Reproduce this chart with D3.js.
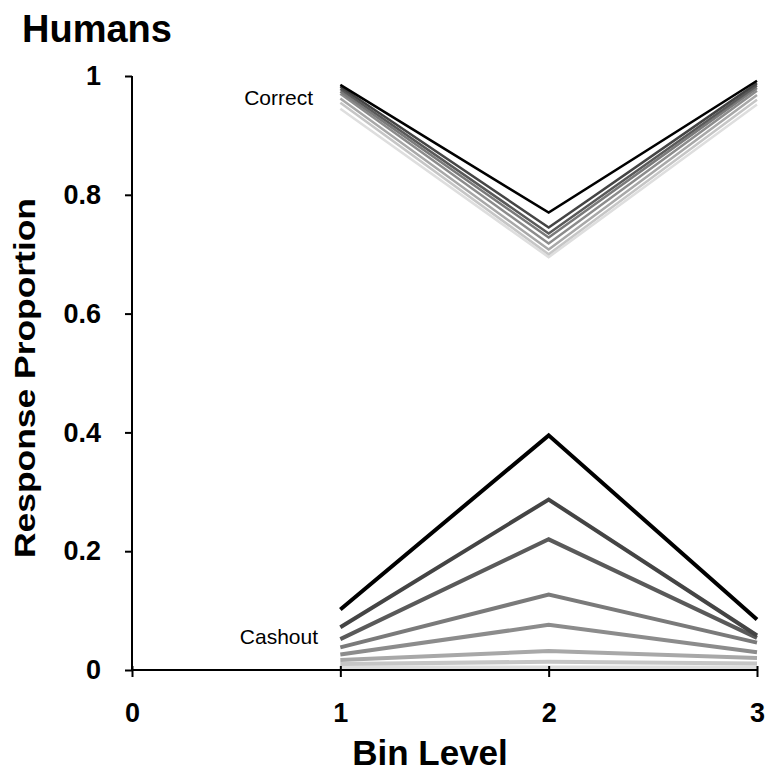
<!DOCTYPE html>
<html>
<head>
<meta charset="utf-8">
<script src="https://cdn.jsdelivr.net/npm/d3@7"></script>
<style>
  body { margin: 0; background: #fff; }
  text { font-family: "Liberation Sans", Arial, sans-serif; }
</style>
</head>
<body>
<div class="chart"></div>
<script>
// bins on the x axis
const bins = [1, 2, 3];
const xTicks = [0, 1, 2, 3];
const yTicks = [0, 0.2, 0.4, 0.6, 0.8, 1];

// one line per condition, darkest first
const grays = ['#000000', '#444444', '#5a5a5a', '#7a7a7a', '#8c8c8c', '#a8a8a8', '#c6c6c6', '#dedede'];

const correct = [
  [0.985, 0.770, 0.992],
  [0.982, 0.745, 0.988],
  [0.978, 0.735, 0.984],
  [0.974, 0.728, 0.980],
  [0.970, 0.718, 0.975],
  [0.962, 0.708, 0.968],
  [0.955, 0.700, 0.960],
  [0.945, 0.695, 0.952]
];

const cashout = [
  [0.102, 0.395, 0.085],
  [0.072, 0.287, 0.058],
  [0.052, 0.220, 0.054],
  [0.038, 0.127, 0.046],
  [0.026, 0.076, 0.030],
  [0.017, 0.032, 0.020],
  [0.010, 0.014, 0.011],
  [0.004, 0.004, 0.004]
];

const width = 767, height = 775;
const svg = d3.select('.chart').append('svg')
    .attr('width', width)
    .attr('height', height);

const x = d3.scaleLinear().domain([0, 3]).range([132, 757]);
const y = d3.scaleLinear().domain([0, 1]).range([670, 76]);

const line = d3.line()
    .x((d, i) => x(bins[i]))
    .y(d => y(d));

// draw lightest first so dark lines sit on top
svg.selectAll('.correct')
    .data(correct.map((d, i) => ({v: d, c: grays[i]})).reverse())
    .enter()
    .append('path')
    .attr('class', 'correct')
    .attr('d', d => line(d.v))
    .attr('fill', 'none')
    .attr('stroke', d => d.c)
    .attr('stroke-width', 2.5);

svg.selectAll('.cashout')
    .data(cashout.map((d, i) => ({v: d, c: grays[i]})).reverse())
    .enter()
    .append('path')
    .attr('class', 'cashout')
    .attr('d', d => line(d.v))
    .attr('fill', 'none')
    .attr('stroke', d => d.c)
    .attr('stroke-width', 4);

// axes
const xAxis = svg.append('g')
    .attr('transform', 'translate(0,' + y(0) + ')')
    .call(d3.axisBottom(x).tickValues(xTicks).tickFormat(d3.format('d')).tickSize(7).tickPadding(26));

const yAxis = svg.append('g')
    .attr('transform', 'translate(' + x(0) + ',0)')
    .call(d3.axisLeft(y).tickValues(yTicks).tickFormat(d => d === 0 || d === 1 ? d : d.toFixed(1)).tickSize(7).tickPadding(24));

[xAxis, yAxis].forEach(a => {
  a.select('.domain').attr('stroke', '#000').attr('stroke-width', 2);
  a.selectAll('.tick line').attr('stroke', '#000').attr('stroke-width', 2);
  a.selectAll('.tick text')
      .attr('fill', '#000')
      .attr('font-size', 27)
      .attr('font-weight', 'bold')
      .attr('font-family', '"Liberation Sans", Arial, sans-serif');
});
yAxis.select('.domain').attr('d', 'M0,' + y(1) + 'V' + y(0));
xAxis.select('.domain').attr('d', 'M' + x(0) + ',0H' + x(3));
xAxis.selectAll('.tick line').attr('y1', -4);

// texts
svg.append('text')
    .attr('x', 22).attr('y', 42)
    .attr('font-size', 38).attr('font-weight', 'bold')
    .text('Humans');

svg.append('text')
    .attr('transform', 'translate(35,378) rotate(-90)')
    .attr('text-anchor', 'middle')
    .attr('font-size', 29).attr('font-weight', 'bold')
    .attr('textLength', 360)
    .attr('lengthAdjust', 'spacingAndGlyphs')
    .text('Response Proportion');

svg.append('text')
    .attr('x', 430).attr('y', 765)
    .attr('text-anchor', 'middle')
    .attr('font-size', 35).attr('font-weight', 'bold')
    .text('Bin Level');

svg.append('text')
    .attr('x', 313).attr('y', 105)
    .attr('text-anchor', 'end')
    .attr('font-size', 21)
    .text('Correct');

svg.append('text')
    .attr('x', 318).attr('y', 644)
    .attr('text-anchor', 'end')
    .attr('font-size', 21)
    .text('Cashout');
</script>
</body>
</html>
